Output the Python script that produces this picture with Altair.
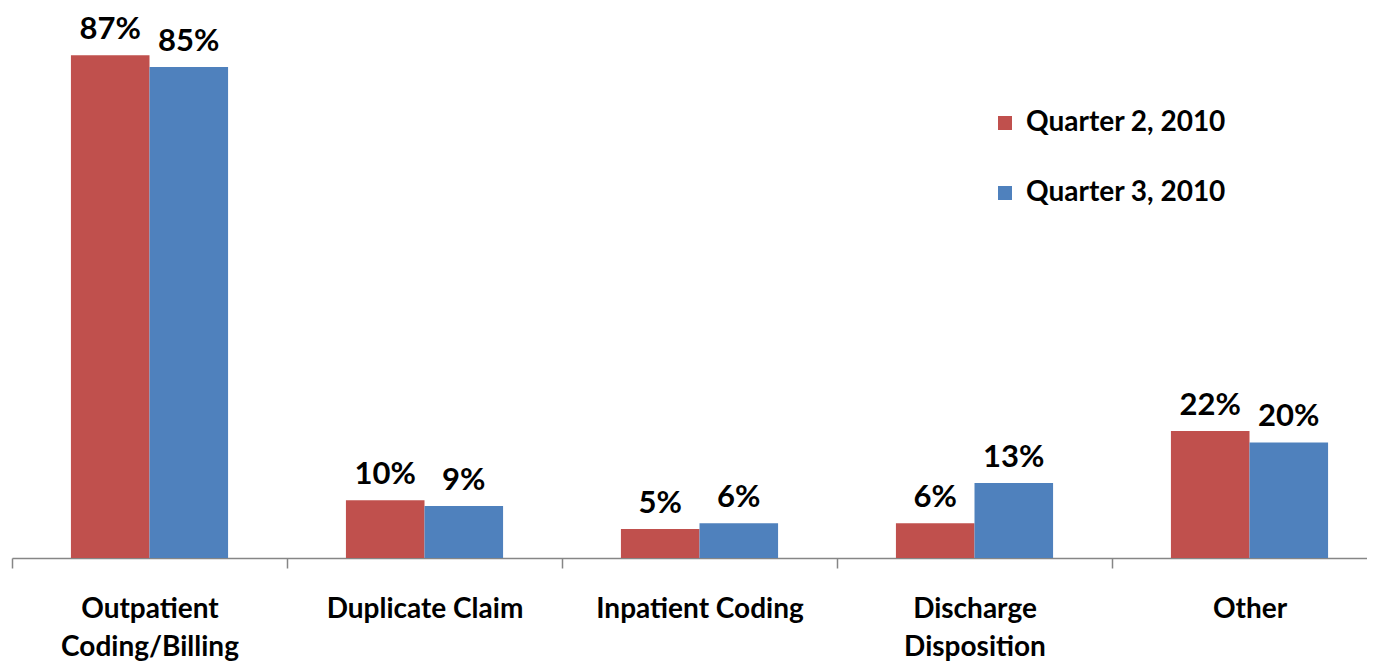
import altair as alt
import pandas as pd

categories = ["Outpatient\nCoding/Billing", "Duplicate Claim", "Inpatient Coding",
              "Discharge\nDisposition", "Other"]
series = ["Quarter 2, 2010", "Quarter 3, 2010"]
q2_values = [87, 10, 5, 6, 22]
q3_values = [85, 9, 6, 13, 20]
colors = ["#C0504D", "#4F81BD"]

rows = []
for c, a, b in zip(categories, q2_values, q3_values):
    rows.append({"category": c, "series": series[0], "value": a})
    rows.append({"category": c, "series": series[1], "value": b})
df = pd.DataFrame(rows)

FONT = "Lato"

x = alt.X("category:N", sort=categories, title=None,
          scale=alt.Scale(paddingInner=0, paddingOuter=0),
          axis=alt.Axis(labelAngle=0, tickBand="extent", labelLimit=400,
                        labelExpr="split(datum.label, '\\n')"))
xo = alt.XOffset("series:N", sort=series,
                 scale=alt.Scale(paddingInner=0, paddingOuter=0.75))
y = alt.Y("value:Q", scale=alt.Scale(domain=[0, 90], nice=False, zero=True), axis=None)

bars = alt.Chart(df).mark_bar().encode(
    x=x, xOffset=xo, y=y,
    color=alt.Color("series:N", sort=series,
                    scale=alt.Scale(domain=series, range=colors),
                    legend=alt.Legend(title=None, orient="none", legendX=979, legendY=71,
                                      symbolType="square", symbolSize=196,
                                      symbolStrokeWidth=0, labelLimit=400,
                                      labelFont=FONT, labelFontSize=28, labelFontWeight="bold",
                                      labelColor="black", rowPadding=42, labelOffset=7,
                                      padding=0)),
)

labels = alt.Chart(df).transform_calculate(
    label="datum.value + '%'"
).mark_text(font=FONT, fontSize=31, fontWeight="bold", color="black",
            baseline="alphabetic", dy=-16).encode(
    x=x, xOffset=xo, y=y, text="label:N",
)

chart = alt.layer(bars, labels).properties(
    width=1375, height=520,
    autosize=alt.AutoSizeParams(type="none"),
    padding={"left": 4, "top": 30, "right": -20, "bottom": 106},
).configure_view(stroke=None).configure_axis(
    domainColor="#868686", tickColor="#868686", domainWidth=1.5, tickWidth=1.5,
    tickSize=10, labelFont=FONT, labelFontSize=28, labelFontWeight="bold",
    labelColor="black", labelPadding=27, labelLineHeight=38, grid=False,
)

chart.save("out.html", embed_options={"renderer": "svg", "actions": False})
